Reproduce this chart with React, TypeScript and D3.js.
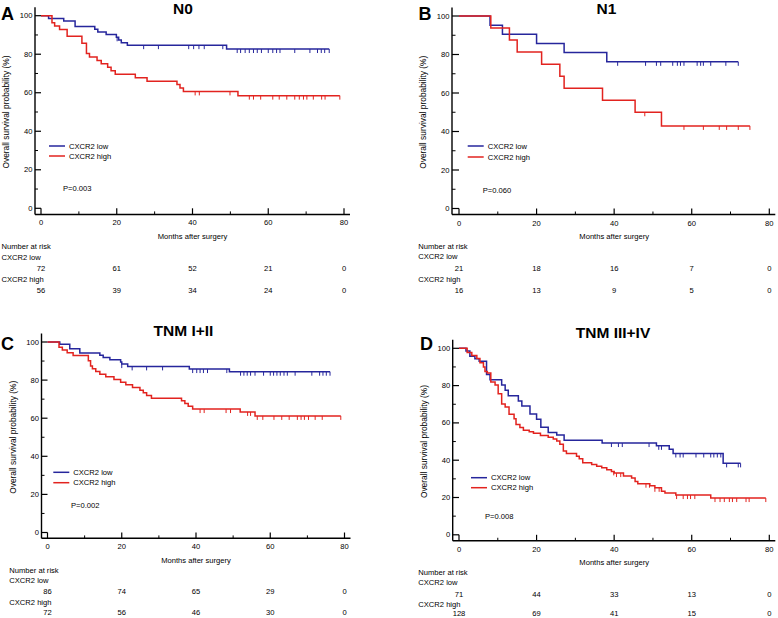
import React from "react";
import * as d3 from "d3";

// ---------- data ----------
const riskMonths = [0, 20, 40, 60, 80];
const xMajor = [0, 20, 40, 60, 80];
const xMinor = [10, 30, 50, 70];
const yMajor = [0, 20, 40, 60, 80, 100];
const yMinor = [10, 30, 50, 70, 90];

// Panel A: N0
const n0LowSteps: [number, number][] = [[0,100],[2.0,98.6],[6.0,97.2],[9.0,94.4],[14.2,93.0],[15.0,91.6],[17.2,90.2],[19.9,88.8],[20.5,87.4],[21.2,86.0],[22.8,84.7],[49.0,82.7]];
const n0LowCensor = [20.1,27.1,31.0,39.0,40.3,41.7,43.1,48.0,51.8,52.7,53.9,55.0,56.1,57.1,58.2,60.0,61.2,62.2,63.1,67.0,71.0,73.0,74.0,74.9,76.1];
const n0HighSteps: [number, number][] = [[0,100],[2.9,96.4],[3.6,94.6],[4.9,92.9],[6.9,89.3],[10.8,85.7],[12.0,80.4],[12.8,78.6],[14.8,76.8],[15.9,75.0],[17.6,73.2],[18.5,71.4],[19.6,69.6],[24.9,67.8],[28.0,66.0],[35.9,64.3],[36.7,62.5],[37.6,60.7],[52.0,58.5]];
const n0HighCensor = [40.7,41.8,49.9,55.0,56.1,58.0,61.2,62.9,64.9,67.0,68.2,69.3,70.2,71.9,74.1,75.0,78.9];
const n0RiskLow = [72, 61, 52, 21, 0];
const n0RiskHigh = [56, 39, 34, 24, 0];

// Panel B: N1
const n1LowSteps: [number, number][] = [[0,100],[8.0,95.2],[11.2,90.5],[20.0,85.7],[27.1,81.0],[38.1,76.2]];
const n1LowCensor = [40.9,48.1,50.9,52.0,55.1,56.3,57.1,58.0,61.4,62.3,63.0,64.9,68.8,72.0];
const n1HighSteps: [number, number][] = [[0,100],[8.2,93.75],[13.0,87.5],[15.0,81.25],[21.3,75],[26.0,68.75],[27.1,62.5],[37.0,56.25],[45.4,50],[52.2,42.9]];
const n1HighCensor = [47.9,58.0,63.0,67.1,69.0,72.0,75.0];
const n1RiskLow = [21, 18, 16, 7, 0];
const n1RiskHigh = [16, 13, 9, 5, 0];

// Panel C: TNM I+II
const tnm12LowSteps: [number, number][] = [[0,100],[3.3,98.8],[6.0,96.5],[8.7,94.2],[14.1,93.0],[15.0,91.9],[16.8,90.7],[19.7,89.5],[20.0,88.4],[21.6,87.2],[38.2,85.8],[49.0,84.4]];
const tnm12LowCensor = [20.0,22.8,26.7,31.0,39.1,40.2,41.1,42.0,43.1,48.3,52.0,52.9,53.8,54.7,55.9,58.2,60.0,60.9,61.8,62.7,63.7,64.6,66.7,71.2,73.3,74.2,75.1,76.1];
const tnm12HighSteps: [number, number][] = [[0,100],[3.1,97.2],[4.0,95.8],[5.3,94.4],[6.9,92.9],[11.0,90.1],[11.6,87.4],[12.1,85.9],[13.0,84.5],[14.1,83.1],[15.7,81.7],[17.9,80.3],[19.7,78.9],[21.1,77.5],[22.9,76.1],[24.9,74.7],[25.8,73.3],[26.7,71.9],[28.0,70.5],[36.1,69.1],[37.0,67.7],[37.9,66.3],[39.1,64.8],[51.9,63.3],[55.9,61.2]];
const tnm12HighCensor = [41.1,42.2,48.1,49.3,53.9,54.7,56.5,58.0,61.0,63.1,65.1,67.3,68.3,69.2,70.3,72.1,74.0,79.0];
const tnm12RiskLow = [86, 74, 65, 29, 0];
const tnm12RiskHigh = [72, 56, 46, 30, 0];

// Panel D: TNM III+IV
const tnm34LowSteps: [number, number][] = [[0,100],[1.8,98.6],[2.8,95.8],[4.1,94.4],[5.2,93.0],[7.1,85.9],[8.0,83.1],[11.0,80.3],[11.9,77.5],[12.7,74.6],[15.3,71.8],[16.2,69.0],[18.3,64.8],[20.0,62.0],[21.1,57.7],[23.0,54.9],[25.2,53.5],[27.1,50.7],[36.9,49.2],[50.9,47.7],[54.2,45.9],[55.2,43.6],[68.1,38.3]];
const tnm34LowCensor = [39.3,41.1,42.1,49.0,51.5,52.2,55.9,57.0,57.8,61.1,63.1,64.9,65.7,66.6,67.5,69.0,72.0,72.6];
const tnm34HighSteps: [number, number][] = [[0,100],[2.1,97.7],[3.3,96.1],[4.6,94.5],[5.4,92.2],[6.3,90.0],[6.7,87.5],[7.3,86.7],[8.2,81.9],[9.3,80.3],[10.1,75.6],[11.0,70.1],[11.9,68.5],[12.9,64.6],[14.2,62.2],[14.7,59.1],[15.7,57.5],[16.6,56.0],[18.1,55.2],[19.2,54.4],[21.0,53.3],[23.0,52.3],[24.3,51.4],[25.2,50.3],[26.0,48.5],[26.9,44.9],[27.7,43.6],[30.3,42.1],[31.0,40.8],[31.9,38.6],[34.2,37.7],[35.5,36.8],[36.8,35.9],[38.1,34.9],[39.3,34.0],[40.0,33.1],[42.4,31.5],[44.5,30.4],[45.4,28.6],[46.1,27.4],[49.2,26.3],[50.5,25.2],[52.2,23.4],[53.1,22.4],[55.9,21.3],[64.9,19.7]];
const tnm34HighCensor = [39.9,40.6,41.7,48.2,49.1,50.5,51.6,56.1,57.8,58.9,59.7,60.8,66.0,67.3,68.4,69.7,70.5,71.6,74.0,74.8,79.1];
const tnm34RiskLow = [71, 44, 33, 13, 0];
const tnm34RiskHigh = [128, 69, 41, 15, 0];

// ---------- styling / layout ----------
const BLUE = "#26269c";
const RED = "#e2231f";
const FONT = "'Liberation Sans', Arial, Helvetica, sans-serif";

type Layout = {
  letter: string; title: string; p: string;
  axisX: number; x0: number; x80: number; y100: number; y0: number; xAxisY: number;
  letterX: number; letterY: number; titleX: number; titleY: number;
  legX: number; legY: number; legY2: number; pX: number; pY: number;
  textX: number; rows: number[];
  lowSteps: [number, number][]; lowCensor: number[];
  highSteps: [number, number][]; highCensor: number[];
  riskLow: number[]; riskHigh: number[];
};

const panels: Layout[] = [
  { letter: "A", title: "N0", p: "P=0.003",
    axisX: 35, x0: 41, x80: 344, y100: 15.7, y0: 208.3, xAxisY: 214.5,
    letterX: 1, letterY: 20, titleX: 183, titleY: 13.5,
    legX: 49, legY: 146, legY2: 156, pX: 63, pY: 188, textX: 1.5,
    rows: [8.4, 21.8, 32, 42.5, 54, 65, 75.5],
    lowSteps: n0LowSteps, lowCensor: n0LowCensor, highSteps: n0HighSteps, highCensor: n0HighCensor,
    riskLow: n0RiskLow, riskHigh: n0RiskHigh },
  { letter: "B", title: "N1", p: "P=0.060",
    axisX: 452, x0: 459, x80: 769.3, y100: 16, y0: 208.5, xAxisY: 214.5,
    letterX: 418.5, letterY: 19.5, titleX: 606.5, titleY: 13.5,
    legX: 467.7, legY: 146, legY2: 157, pX: 482.7, pY: 190, textX: 418.3,
    rows: [8.8, 21.8, 32, 42.2, 53.8, 64.8, 75.5],
    lowSteps: n1LowSteps, lowCensor: n1LowCensor, highSteps: n1HighSteps, highCensor: n1HighCensor,
    riskLow: n1RiskLow, riskHigh: n1RiskHigh },
  { letter: "C", title: "TNM I+II", p: "P=0.002",
    axisX: 41.5, x0: 47.5, x80: 344.5, y100: 342, y0: 532.5, xAxisY: 538.3,
    letterX: 1, letterY: 349.5, titleX: 183.5, titleY: 336,
    legX: 53.3, legY: 472.3, legY2: 482.7, pX: 71, pY: 505.7, textX: 9.3,
    rows: [8.4, 22.2, 32.2, 42.5, 53.5, 64, 74.5],
    lowSteps: tnm12LowSteps, lowCensor: tnm12LowCensor, highSteps: tnm12HighSteps, highCensor: tnm12HighCensor,
    riskLow: tnm12RiskLow, riskHigh: tnm12RiskHigh },
  { letter: "D", title: "TNM III+IV", p: "P=0.008",
    axisX: 452.7, x0: 459, x80: 769.3, y100: 348.3, y0: 534.8, xAxisY: 540.7,
    letterX: 420, letterY: 350, titleX: 613, titleY: 338,
    legX: 471, legY: 477.7, legY2: 487.7, pX: 485, pY: 516.7, textX: 418.3,
    rows: [8.6, 22, 32, 42, 53.8, 63.5, 72.6],
    lowSteps: tnm34LowSteps, lowCensor: tnm34LowCensor, highSteps: tnm34HighSteps, highCensor: tnm34HighCensor,
    riskLow: tnm34RiskLow, riskHigh: tnm34RiskHigh },
];

function survAt(steps: [number, number][], t: number) {
  let s = 100;
  for (const [m, v] of steps) if (m <= t) s = v;
  return s;
}

function Curve({ steps, censor, x, y, color }: any) {
  const end = Math.max(steps[steps.length - 1][0], d3.max(censor as number[]) ?? 0);
  const pts: [number, number][] = [...steps, [end, steps[steps.length - 1][1]]];
  const line = d3.line<[number, number]>().x(d => x(d[0])).y(d => y(d[1])).curve(d3.curveStepAfter);
  return (
    <g>
      <path d={line(pts) || ""} fill="none" stroke={color} strokeWidth={1.5} />
      {censor.map((c: number, i: number) => {
        const yy = y(survAt(steps, c));
        return <line key={i} x1={x(c)} x2={x(c)} y1={yy} y2={yy + 4} stroke={color} strokeWidth={1} />;
      })}
    </g>
  );
}

function Panel({ L }: { L: Layout }) {
  const x = d3.scaleLinear().domain([0, 80]).range([L.x0, L.x80]);
  const y = d3.scaleLinear().domain([0, 100]).range([L.y0, L.y100]);
  const tickLen = L.x0 - L.axisX;
  const xTickLen = L.xAxisY - L.y0;
  const rows = L.rows;
  const yMid = (L.y100 + L.y0) / 2;
  const small = 7.6;
  return (
    <g fontFamily={FONT}>
      {/* axes */}
      <line x1={L.axisX} x2={L.axisX} y1={L.y100 - 8.5} y2={L.xAxisY} stroke="#000" strokeWidth={1.4} />
      <line x1={L.axisX} x2={x(80) + 6} y1={L.xAxisY} y2={L.xAxisY} stroke="#000" strokeWidth={1.4} />
      {yMajor.map(v => (
        <g key={"ym" + v}>
          <line x1={L.axisX} x2={L.axisX + tickLen} y1={y(v)} y2={y(v)} stroke="#000" strokeWidth={1.2} />
          <text x={L.axisX - 2.5} y={y(v)} fontSize={small} textAnchor="end" dominantBaseline="central">{v}</text>
        </g>
      ))}
      {yMinor.map(v => (
        <line key={"yn" + v} x1={L.axisX} x2={L.axisX + tickLen / 2} y1={y(v)} y2={y(v)} stroke="#000" strokeWidth={1} />
      ))}
      {xMajor.map(v => (
        <g key={"xm" + v}>
          <line x1={x(v)} x2={x(v)} y1={L.xAxisY} y2={L.xAxisY - xTickLen} stroke="#000" strokeWidth={1.2} />
          <text x={x(v)} y={L.xAxisY + rows[0]} fontSize={small} textAnchor="middle" dominantBaseline="central">{v}</text>
        </g>
      ))}
      {xMinor.map(v => (
        <line key={"xn" + v} x1={x(v)} x2={x(v)} y1={L.xAxisY} y2={L.xAxisY - xTickLen / 2} stroke="#000" strokeWidth={1} />
      ))}
      <text x={x(40)} y={L.xAxisY + rows[1]} fontSize={small} textAnchor="middle" dominantBaseline="central">Months after surgery</text>
      <text transform={`translate(${L.axisX - 29},${yMid}) rotate(-90)`} fontSize={8.4} textAnchor="middle" dominantBaseline="central">Overall survival probability (%)</text>

      {/* curves */}
      <Curve steps={L.lowSteps} censor={L.lowCensor} x={x} y={y} color={BLUE} />
      <Curve steps={L.highSteps} censor={L.highCensor} x={x} y={y} color={RED} />

      {/* legend */}
      <line x1={L.legX} x2={L.legX + 16} y1={L.legY} y2={L.legY} stroke={BLUE} strokeWidth={1.5} />
      <text x={L.legX + 20} y={L.legY} fontSize={small} dominantBaseline="central">CXCR2 low</text>
      <line x1={L.legX} x2={L.legX + 16} y1={L.legY2} y2={L.legY2} stroke={RED} strokeWidth={1.5} />
      <text x={L.legX + 20} y={L.legY2} fontSize={small} dominantBaseline="central">CXCR2 high</text>
      <text x={L.pX} y={L.pY} fontSize={small} dominantBaseline="central">{L.p}</text>

      {/* titles */}
      <text x={L.titleX} y={L.titleY} fontSize={15.5} fontWeight="bold" textAnchor="middle">{L.title}</text>
      <text x={L.letterX} y={L.letterY} fontSize={18} fontWeight="bold">{L.letter}</text>

      {/* number at risk */}
      <text x={L.textX} y={L.xAxisY + rows[2]} fontSize={small} dominantBaseline="central">Number at risk</text>
      <text x={L.textX} y={L.xAxisY + rows[3]} fontSize={small} dominantBaseline="central">CXCR2 low</text>
      {L.riskLow.map((n, i) => (
        <text key={"rl" + i} x={x(riskMonths[i])} y={L.xAxisY + rows[4]} fontSize={small} textAnchor="middle" dominantBaseline="central">{n}</text>
      ))}
      <text x={L.textX} y={L.xAxisY + rows[5]} fontSize={small} dominantBaseline="central">CXCR2 high</text>
      {L.riskHigh.map((n, i) => (
        <text key={"rh" + i} x={x(riskMonths[i])} y={L.xAxisY + rows[6]} fontSize={small} textAnchor="middle" dominantBaseline="central">{n}</text>
      ))}
    </g>
  );
}

export default function App() {
  return (
    <svg width={778} height={618} style={{ position: "absolute", left: 0, top: 0, background: "#fff" }}>
      <rect width={778} height={618} fill="#fff" />
      {panels.map(L => <Panel key={L.letter} L={L} />)}
    </svg>
  );
}
